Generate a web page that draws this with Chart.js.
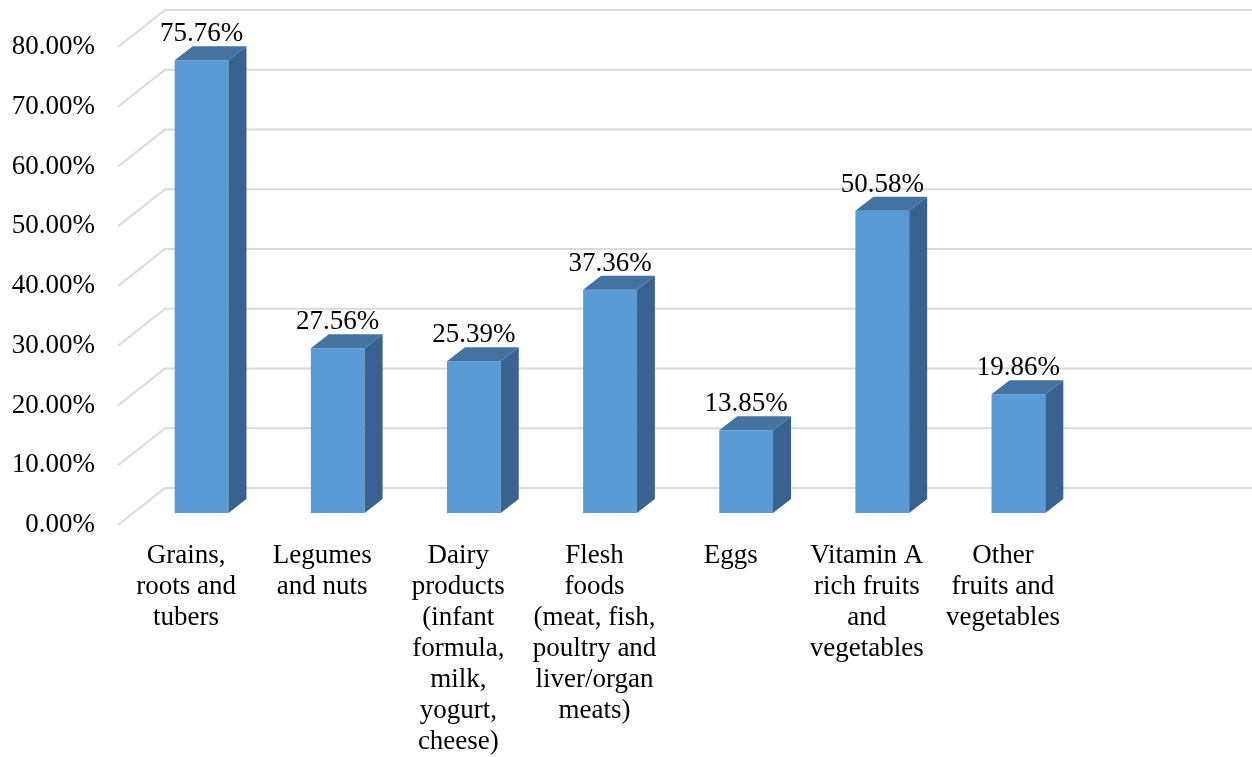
<!DOCTYPE html>
<html>
<head>
<meta charset="utf-8">
<script src="https://cdn.jsdelivr.net/npm/chart.js@4.4.1/dist/chart.umd.min.js"></script>
<style>
  html, body { margin: 0; padding: 0; background: #ffffff; }
  #wrap { width: 1252px; height: 757px; }
</style>
</head>
<body>
<div id="wrap"><canvas id="chart" width="1252" height="757"></canvas></div>
<script>
"use strict";

/* ── Datos ───────────────────────────────────────────── */
const categories = [
  ["Grains,", "roots and", "tubers"],
  ["Legumes", "and nuts"],
  ["Dairy", "products", "(infant", "formula,", "milk,", "yogurt,", "cheese)"],
  ["Flesh", "foods", "(meat, fish,", "poultry and", "liver/organ", "meats)"],
  ["Eggs"],
  ["Vitamin A", "rich fruits", "and", "vegetables"],
  ["Other", "fruits and", "vegetables"],
];
const values = [75.76, 27.56, 25.39, 37.36, 13.85, 50.58, 19.86];
const yMin = 0;
const yMax = 80;
const yStep = 10;

/* ── Estilo ──────────────────────────────────────────── */
const FONT      = "'Liberation Serif', 'Times New Roman', serif";
const FONT_SIZE = 27;
const FRONT     = "#5B9BD5";
const TOP       = "#4373A1";
const SIDE      = "#386390";
const GRID      = "#DADADA";

/* profundidad del "3D" (px) */
const WALL_DX = 47,   WALL_DY = -37;   // pared lateral: frente -> fondo
const BAR_DX  = 15.5, BAR_DY  = -12;   // plano frontal de las barras
const DEP_DX  = 18,   DEP_DY  = -14;   // grosor de cada barra

/* ── Plugin: paredes, caras laterales y etiquetas ────── */
const depthPlugin = {
  id: "depth3d",
  beforeDatasetsDraw(chart) {
    const { ctx, chartArea, scales } = chart;
    const y = scales.y;
    ctx.save();
    ctx.strokeStyle = GRID;
    ctx.lineWidth = 2;
    y.ticks.forEach(t => {
      const py = y.getPixelForValue(t.value);
      ctx.beginPath();
      ctx.moveTo(chartArea.left, py);
      ctx.lineTo(chartArea.left + WALL_DX, py + WALL_DY);
      ctx.lineTo(chart.width, py + WALL_DY);
      ctx.stroke();
    });
    ctx.restore();

    ctx.save();
    ctx.translate(BAR_DX, BAR_DY);
  },
  afterDatasetsDraw(chart) {
    const { ctx } = chart;
    const meta = chart.getDatasetMeta(0);
    meta.data.forEach((el, i) => {
      if (values[i] == null) return;
      const { x, y, base, width } = el.getProps(["x", "y", "base", "width"], true);
      const l = x - width / 2, r = x + width / 2;

      /* cara lateral */
      ctx.fillStyle = SIDE;
      ctx.beginPath();
      ctx.moveTo(r, y);
      ctx.lineTo(r + DEP_DX, y + DEP_DY);
      ctx.lineTo(r + DEP_DX, base + DEP_DY);
      ctx.lineTo(r, base);
      ctx.closePath();
      ctx.fill();

      /* cara superior */
      ctx.fillStyle = TOP;
      ctx.beginPath();
      ctx.moveTo(l, y);
      ctx.lineTo(r, y);
      ctx.lineTo(r + DEP_DX, y + DEP_DY);
      ctx.lineTo(l + DEP_DX, y + DEP_DY);
      ctx.closePath();
      ctx.fill();

      /* etiqueta */
      ctx.fillStyle = "#000";
      ctx.font = FONT_SIZE + "px " + FONT;
      ctx.textAlign = "center";
      ctx.textBaseline = "alphabetic";
      ctx.fillText(values[i].toFixed(2) + "%", x, y + DEP_DY - 5);
    });
    ctx.restore();
  }
};

new Chart(document.getElementById("chart"), {
  type: "bar",
  plugins: [depthPlugin],
  data: {
    labels: categories,
    datasets: [{
      data: values,
      backgroundColor: FRONT,
      borderWidth: 0,
      categoryPercentage: 1,
      barPercentage: 0.395,
    }]
  },
  options: {
    responsive: false,
    animation: false,
    devicePixelRatio: 1,
    layout: { padding: { top: 47, right: 181, bottom: 0, left: 0 } },
    scales: {
      x: {
        grid: { display: false },
        border: { display: false },
        ticks: {
          color: "#000",
          padding: 7,
          maxRotation: 0,
          autoSkip: false,
          font: { family: FONT, size: FONT_SIZE, lineHeight: 1.15 },
        },
        afterFit: s => { s.height = 232; },
      },
      y: {
        min: yMin,
        max: yMax,
        grid: { display: false },
        border: { display: false },
        ticks: {
          stepSize: yStep,
          color: "#000",
          padding: 15,
          font: { family: FONT, size: FONT_SIZE },
          callback: v => v.toFixed(2) + "%",
        },
        afterFit: s => { s.width = 118; },
      }
    },
    plugins: {
      legend: { display: false },
      tooltip: { enabled: false },
    }
  }
});
</script>
</body>
</html>
